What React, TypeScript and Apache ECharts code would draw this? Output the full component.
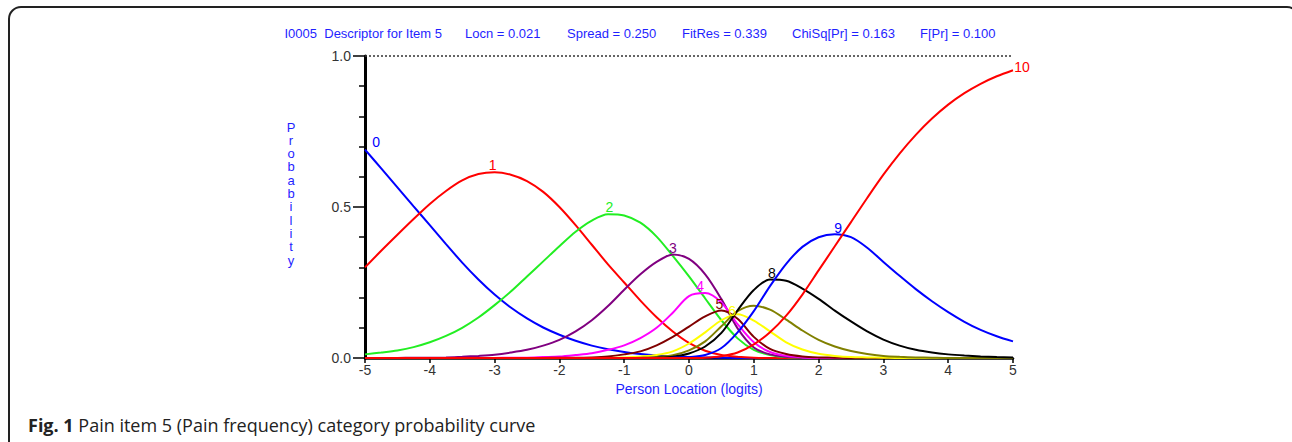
import React, { useEffect, useRef } from "react";
import * as echarts from "echarts";

// Person location (logits), every 0.25 from -5 to 5
const xs = [-5, -4.75, -4.5, -4.25, -4, -3.75, -3.5, -3.25, -3, -2.75, -2.5, -2.25, -2, -1.75, -1.5, -1.25, -1, -0.75, -0.5, -0.25, 0, 0.25, 0.5, 0.75, 1, 1.25, 1.5, 1.75, 2, 2.25, 2.5, 2.75, 3, 3.25, 3.5, 3.75, 4, 4.25, 4.5, 4.75, 5];

// Category probability curves
const cat0 = [0.69, 0.628, 0.565, 0.502, 0.44, 0.377, 0.316, 0.26, 0.21, 0.167, 0.131, 0.101, 0.077, 0.057, 0.041, 0.029, 0.02, 0.013, 0.008, 0.005, 0.003, 0.002, 0.001, 0, 0, 0, 0, 0, 0, 0, 0, 0, 0, 0, 0, 0, 0, 0, 0, 0, 0];
const cat1 = [0.3, 0.355, 0.408, 0.46, 0.51, 0.553, 0.588, 0.609, 0.615, 0.607, 0.586, 0.55, 0.5, 0.44, 0.375, 0.31, 0.25, 0.19, 0.135, 0.088, 0.05, 0.024, 0.01, 0.004, 0.001, 0, 0, 0, 0, 0, 0, 0, 0, 0, 0, 0, 0, 0, 0, 0, 0];
const cat2 = [0.012, 0.018, 0.025, 0.036, 0.052, 0.073, 0.1, 0.134, 0.175, 0.22, 0.27, 0.32, 0.37, 0.418, 0.455, 0.476, 0.472, 0.448, 0.402, 0.338, 0.27, 0.197, 0.125, 0.065, 0.027, 0.01, 0.003, 0.001, 0, 0, 0, 0, 0, 0, 0, 0, 0, 0, 0, 0, 0];
const cat3 = [0, 0, 0, 0.001, 0.001, 0.002, 0.004, 0.007, 0.011, 0.018, 0.027, 0.041, 0.06, 0.088, 0.125, 0.172, 0.226, 0.277, 0.318, 0.343, 0.328, 0.277, 0.195, 0.098, 0.035, 0.012, 0.004, 0.001, 0, 0, 0, 0, 0, 0, 0, 0, 0, 0, 0, 0, 0];
const cat4 = [0, 0, 0, 0, 0, 0, 0, 0, 0, 0.001, 0.001, 0.003, 0.005, 0.01, 0.016, 0.027, 0.042, 0.066, 0.1, 0.15, 0.205, 0.215, 0.184, 0.112, 0.052, 0.02, 0.007, 0.002, 0, 0, 0, 0, 0, 0, 0, 0, 0, 0, 0, 0, 0];
const cat5 = [0, 0, 0, 0, 0, 0, 0, 0, 0, 0, 0, 0, 0.001, 0.001, 0.002, 0.005, 0.012, 0.022, 0.042, 0.07, 0.104, 0.138, 0.157, 0.13, 0.07, 0.03, 0.013, 0.005, 0.002, 0.001, 0, 0, 0, 0, 0, 0, 0, 0, 0, 0, 0];
const cat6 = [0, 0, 0, 0, 0, 0, 0, 0, 0, 0, 0, 0, 0, 0, 0, 0, 0.002, 0.005, 0.01, 0.022, 0.048, 0.085, 0.125, 0.145, 0.124, 0.088, 0.052, 0.028, 0.014, 0.007, 0.003, 0.002, 0.001, 0, 0, 0, 0, 0, 0, 0, 0];
const cat7 = [0, 0, 0, 0, 0, 0, 0, 0, 0, 0, 0, 0, 0, 0, 0, 0, 0, 0.001, 0.003, 0.009, 0.025, 0.055, 0.105, 0.155, 0.173, 0.16, 0.127, 0.091, 0.06, 0.038, 0.023, 0.013, 0.007, 0.004, 0.002, 0.001, 0, 0, 0, 0, 0];
const cat8 = [0, 0, 0, 0, 0, 0, 0, 0, 0, 0, 0, 0, 0, 0, 0, 0, 0, 0, 0.001, 0.004, 0.015, 0.038, 0.083, 0.158, 0.225, 0.26, 0.256, 0.23, 0.196, 0.157, 0.121, 0.088, 0.061, 0.041, 0.027, 0.018, 0.012, 0.008, 0.005, 0.003, 0.002];
const cat9 = [0, 0, 0, 0, 0, 0, 0, 0, 0, 0, 0, 0, 0, 0, 0, 0, 0, 0, 0, 0.001, 0.003, 0.01, 0.033, 0.085, 0.155, 0.238, 0.312, 0.368, 0.4, 0.41, 0.4, 0.365, 0.318, 0.272, 0.228, 0.188, 0.152, 0.12, 0.093, 0.072, 0.055];
const cat10 = [0, 0, 0, 0, 0, 0, 0, 0, 0, 0, 0, 0, 0, 0, 0, 0, 0, 0, 0, 0, 0, 0.001, 0.006, 0.018, 0.045, 0.085, 0.14, 0.21, 0.29, 0.37, 0.45, 0.53, 0.607, 0.677, 0.739, 0.793, 0.839, 0.877, 0.908, 0.933, 0.953];

const categories = [cat0, cat1, cat2, cat3, cat4, cat5, cat6, cat7, cat8, cat9, cat10];
const categoryNames = ["0", "1", "2", "3", "4", "5", "6", "7", "8", "9", "10"];
const categoryColors = ["#0000ff", "#ff0000", "#22ee22", "#800080", "#ff00ff", "#800000", "#ffff00", "#808000", "#000000", "#0000ff", "#ff0000"];

// where each category number is written (logits, probability); "7" is not shown
const labelCategories = [0, 1, 2, 3, 4, 5, 6, 8, 9, 10];
const labelAnchors = [[-4.83, 0.715], [-3.03, 0.64], [-1.23, 0.5], [-0.25, 0.363], [0.17, 0.24], [0.47, 0.18], [0.665, 0.157], [1.28, 0.281], [2.3, 0.43], [5.14, 0.963]];

const yTicks = [0, 0.5, 1];
const titleParts = ["I0005  Descriptor for Item 5", "Locn = 0.021", "Spread = 0.250", "FitRes = 0.339", "ChiSq[Pr] = 0.163", "F[Pr] = 0.100"];
const titleLeft = [442, 465, 567, 682, 792, 920];
const xAxisTitle = "Person Location (logits)";
const yAxisTitle = "Probability";
const captionBold = "Fig. 1";
const captionText = " Pain item 5 (Pain frequency) category probability curve";

const BLUE = "#1f1fff";
const FONT = "'Liberation Sans', Arial, sans-serif";

export default function App() {
  const ref = useRef<HTMLDivElement>(null);
  useEffect(() => {
    const el = ref.current;
    if (!el) return;
    const chart = echarts.init(el, undefined, { renderer: "svg" });
    const series: any[] = categories.map((vals, i) => ({
      type: "line",
      name: categoryNames[i],
      data: xs.map((x, j) => [x, vals[j]]),
      smooth: 0.3,
      symbol: "none",
      showSymbol: false,
      lineStyle: { color: categoryColors[i], width: 2 },
      itemStyle: { color: categoryColors[i] },
      markLine:
        i === 0
          ? {
              silent: true,
              symbol: "none",
              label: { show: false },
              lineStyle: { color: "#333", type: [2, 2], width: 1.5 },
              data: [{ yAxis: yTicks[yTicks.length - 1] }],
            }
          : undefined,
    }));
    chart.setOption({
      animation: false,
      grid: { left: 365, right: 279, top: 56, bottom: 84, containLabel: false },
      xAxis: {
        type: "value",
        min: -5,
        max: 5,
        interval: 1,
        axisLine: { show: true, onZero: true, lineStyle: { color: "#000", width: 2.5 } },
        axisTick: { show: true, length: 5, lineStyle: { color: "#000", width: 1.5 } },
        axisLabel: { fontFamily: FONT, fontSize: 14, color: "#333", margin: 5 },
        splitLine: { show: false },
      },
      yAxis: {
        type: "value",
        min: 0,
        max: 1,
        interval: 0.5,
        axisLine: { show: true, onZero: false, lineStyle: { color: "#000", width: 3 } },
        axisTick: { show: true, length: 12, lineStyle: { color: "#000", width: 1.5 } },
        minorTick: { show: true, splitNumber: 5, length: 6, lineStyle: { color: "#000", width: 1.5 } },
        axisLabel: { fontFamily: FONT, fontSize: 14, color: "#333", margin: 14, formatter: (v: number) => v.toFixed(1) },
        splitLine: { show: false },
        minorSplitLine: { show: false },
      },
      series,
    });

    const labels = labelAnchors.map((p, k) => {
      const ci = labelCategories[k];
      const px = chart.convertToPixel({ gridIndex: 0 }, p) as number[];
      return {
        type: "text",
        x: px[0],
        y: px[1],
        z: 100,
        style: {
          text: categoryNames[ci],
          fill: categoryColors[ci],
          fontFamily: FONT,
          fontSize: 14,
          textAlign: "center",
          align: "center",
          textVerticalAlign: "middle",
          verticalAlign: "middle",
        },
      };
    });

    const titles = titleParts.map((t, i) => ({
      type: "text",
      x: titleLeft[i],
      y: 33,
      z: 100,
      style: {
        text: t,
        fill: BLUE,
        fontFamily: FONT,
        fontSize: 13,
        textAlign: i === 0 ? "right" : "left",
        align: i === 0 ? "right" : "left",
        textVerticalAlign: "middle",
        verticalAlign: "middle",
      },
    }));

    const yTitleLetters = yAxisTitle.split("").map((ch, k) => ({
      type: "text",
      x: 291,
      y: 127 + k * 13.3,
      z: 100,
      style: {
        text: ch,
        fill: BLUE,
        fontFamily: FONT,
        fontSize: 13,
        textAlign: "center",
        align: "center",
        textVerticalAlign: "middle",
        verticalAlign: "middle",
      },
    }));

    chart.setOption({
      graphic: [
        {
          type: "rect",
          z: 100,
          shape: { x: 9, y: 7, width: 1290, height: 470, r: 12 },
          style: { fill: "none", stroke: "#222", lineWidth: 2 },
        },
        ...titles,
        ...yTitleLetters,
        {
          type: "text",
          x: 689,
          y: 389,
          z: 100,
          style: {
            text: xAxisTitle,
            fill: BLUE,
            fontFamily: FONT,
            fontSize: 14,
            textAlign: "center",
            align: "center",
            textVerticalAlign: "middle",
            verticalAlign: "middle",
          },
        },
        {
          type: "text",
          x: 28,
          y: 425,
          z: 100,
          style: {
            text: "{b|" + captionBold + "}" + captionText,
            fill: "#222",
            fontFamily: "'Open Sans', sans-serif",
            fontSize: 18,
            textAlign: "left",
            align: "left",
            textVerticalAlign: "middle",
            verticalAlign: "middle",
            rich: {
              b: { fontWeight: "bold", fontFamily: "'Open Sans', sans-serif", fontSize: 18, fill: "#222" },
            },
          },
        },
        ...labels,
      ],
    });
    return () => chart.dispose();
  }, []);
  return <div ref={ref} style={{ position: "absolute", left: 0, top: 0, width: 1292, height: 442 }} />;
}
